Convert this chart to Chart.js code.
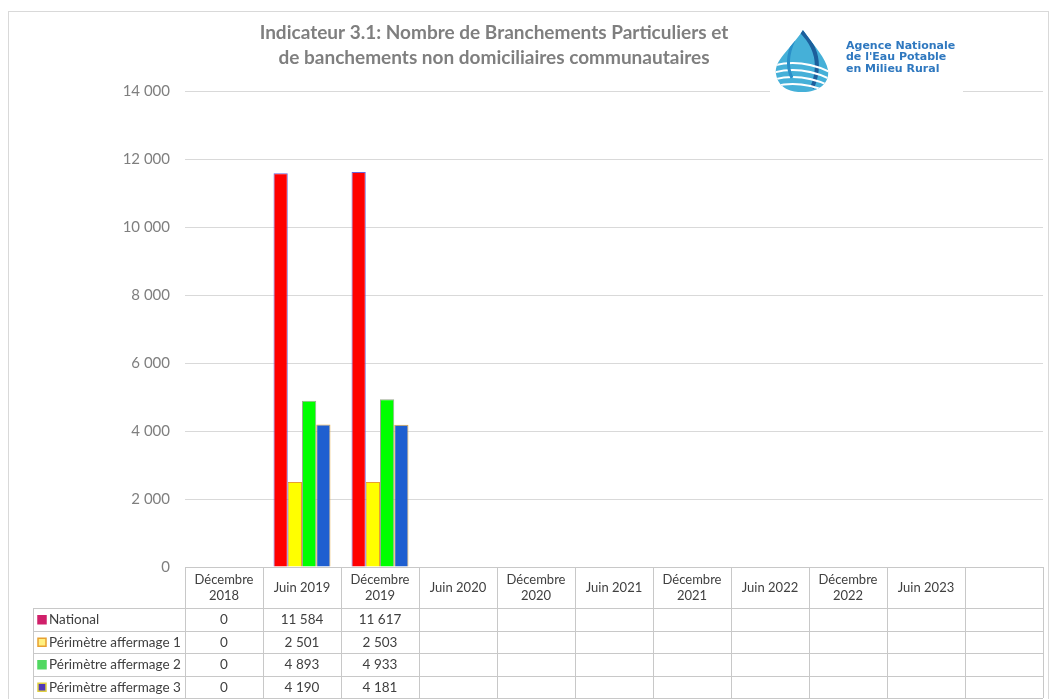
<!DOCTYPE html>
<html>
<head>
<meta charset="utf-8">
<script src="https://cdn.jsdelivr.net/npm/chart.js@4.4.1/dist/chart.umd.min.js"></script>
<style>
  html, body { margin: 0; padding: 0; background: #fff; }
  #wrap { width: 1050px; height: 699px; }
</style>
</head>
<body>
<div id="wrap"><canvas id="indicChart" width="1050" height="699"></canvas></div>
<script>
const periods = [
  ["Décembre", "2018"], ["Juin 2019"], ["Décembre", "2019"], ["Juin 2020"],
  ["Décembre", "2020"], ["Juin 2021"], ["Décembre", "2021"], ["Juin 2022"],
  ["Décembre", "2022"], ["Juin 2023"], [""]
];
const seriesNames = ["National", "Périmètre affermage 1", "Périmètre affermage 2", "Périmètre affermage 3"];
const national = [0, 11584, 11617, null, null, null, null, null, null, null, null];
const perimetre1 = [0, 2501, 2503, null, null, null, null, null, null, null, null];
const perimetre2 = [0, 4893, 4933, null, null, null, null, null, null, null, null];
const perimetre3 = [0, 4190, 4181, null, null, null, null, null, null, null, null];
const yTicks = [0, 2000, 4000, 6000, 8000, 10000, 12000, 14000];
const titleLines = ["Indicateur 3.1: Nombre de Branchements Particuliers et",
                    "de banchements non domiciliaires communautaires"];
const logoLines = ["Agence Nationale", "de l'Eau Potable", "en Milieu Rural"];

const fills = ["#ff0000", "#ffff00", "#00ff00", "#1f5fd0"];
const edges = ["#6a62d8", "#e8a030", "#9aa890", "#e8a838"];
const swatchFill = ["#d0206a", "#fff080", "#50d860", "#5038b8"];
const swatchEdge = ["#d0206a", "#e8a030", "#50d860", "#e0d040"];

const FONT = "Lato, 'Open Sans', sans-serif";
const fmt = v => (v === null || v === undefined) ? "" : String(v).replace(/\B(?=(\d{3})+(?!\d))/g, " ");

const allSeries = [national, perimetre1, perimetre2, perimetre3];

const decor = {
  id: "decor",
  afterDraw(chart) {
    const ctx = chart.ctx;
    const xs = chart.scales.x;
    const area = chart.chartArea;
    const n = periods.length;
    const cw = (area.right - area.left) / n;
    ctx.save();

    // outer frame
    ctx.strokeStyle = "#d9d9d9";
    ctx.lineWidth = 1;
    ctx.strokeRect(8.5, 11.5, 1040, 700);

    // title
    ctx.fillStyle = "#7f7f7f";
    ctx.font = "bold 19px " + FONT;
    ctx.textAlign = "center";
    ctx.textBaseline = "middle";
    ctx.fillText(titleLines[0], 494, 33);
    ctx.fillText(titleLines[1], 494, 58);

    // logo
    ctx.fillStyle = "#fff";
    ctx.fillRect(770, 24, 193, 72);
    ctx.save();
    ctx.beginPath();
    ctx.moveTo(803, 30);
    ctx.bezierCurveTo(790, 50, 774, 60, 776, 74);
    ctx.bezierCurveTo(778, 88, 792, 93, 803, 92);
    ctx.bezierCurveTo(818, 92, 830, 84, 828, 70);
    ctx.bezierCurveTo(826, 58, 814, 46, 803, 30);
    ctx.closePath();
    ctx.fillStyle = "#45b0d8";
    ctx.fill();
    ctx.clip();
    ctx.strokeStyle = "#1c5f9c";
    ctx.lineWidth = 4;
    ctx.beginPath();
    ctx.moveTo(800, 30); ctx.quadraticCurveTo(826, 55, 812, 88);
    ctx.stroke();
    ctx.strokeStyle = "#ffffff";
    ctx.lineWidth = 2;
    for (let k = 0; k < 4; k++) {
      ctx.beginPath();
      ctx.moveTo(772, 66 + k * 7);
      ctx.quadraticCurveTo(800, 58 + k * 7, 830, 72 + k * 7);
      ctx.stroke();
    }
    ctx.strokeStyle = "#2a8fc8";
    ctx.lineWidth = 3;
    ctx.beginPath();
    ctx.moveTo(794, 40); ctx.quadraticCurveTo(784, 62, 792, 78);
    ctx.stroke();
    ctx.restore();
    ctx.fillStyle = "#2f78bf";
    ctx.font = "bold 11px 'DejaVu Sans', sans-serif";
    ctx.textAlign = "left";
    ctx.textBaseline = "middle";
    logoLines.forEach((t, i) => ctx.fillText(t, 846, 46 + i * 11.5));

    // data table
    const top = area.bottom;
    const headBottom = top + 41;
    const rowH = 22.5;
    const tableBottom = headBottom + rowH * seriesNames.length;
    const legendLeft = 33;
    ctx.strokeStyle = "#c8c8c8";
    ctx.lineWidth = 1;
    ctx.beginPath();
    ctx.moveTo(area.left, top + 0.5); ctx.lineTo(area.right, top + 0.5);
    for (let r = 0; r <= seriesNames.length; r++) {
      const y = Math.round(headBottom + r * rowH) + 0.5;
      ctx.moveTo(legendLeft, y); ctx.lineTo(area.right, y);
    }
    for (let i = 0; i <= n; i++) {
      const x = Math.round(xs.getPixelForValue(i) - cw / 2) + 0.5;
      ctx.moveTo(x, top); ctx.lineTo(x, tableBottom);
    }
    ctx.moveTo(legendLeft + 0.5, headBottom); ctx.lineTo(legendLeft + 0.5, tableBottom);
    ctx.stroke();

    ctx.fillStyle = "#404040";
    ctx.font = "13px " + FONT;
    ctx.textAlign = "center";
    periods.forEach((lab, i) => {
      const cx = xs.getPixelForValue(i);
      if (lab.length === 2) {
        ctx.fillText(lab[0], cx, top + 13);
        ctx.fillText(lab[1], cx, top + 29);
      } else {
        ctx.fillText(lab[0], cx, top + 21);
      }
    });
    ctx.font = "13.5px " + FONT;
    allSeries.forEach((vals, r) => {
      const cy = headBottom + r * rowH + rowH / 2 + 0.5;
      vals.forEach((v, i) => {
        ctx.fillText(fmt(v), xs.getPixelForValue(i), cy);
      });
    });

    ctx.textAlign = "left";
    seriesNames.forEach((name, r) => {
      const cy = headBottom + r * rowH + rowH / 2 + 0.5;
      ctx.fillStyle = swatchFill[r];
      ctx.fillRect(38, cy - 4, 8, 8);
      ctx.strokeStyle = swatchEdge[r];
      ctx.lineWidth = 1.5;
      ctx.strokeRect(38, cy - 4, 8, 8);
      ctx.fillStyle = "#404040";
      ctx.fillText(name, 49, cy);
    });
    ctx.restore();
  }
};

new Chart(document.getElementById("indicChart").getContext("2d"), {
  type: "bar",
  data: {
    labels: periods.map(p => p.join(" ")),
    datasets: allSeries.map((vals, k) => ({
      label: seriesNames[k],
      data: vals,
      backgroundColor: fills[k],
      borderColor: edges[k],
      borderWidth: 1,
      categoryPercentage: 0.73,
      barPercentage: 1.0
    }))
  },
  options: {
    responsive: false,
    animation: false,
    layout: { padding: { top: 91, right: 7, bottom: 0, left: 0 } },
    plugins: {
      legend: { display: false },
      title: { display: false },
      tooltip: { enabled: false }
    },
    scales: {
      x: {
        grid: { display: false },
        border: { display: false },
        ticks: { display: false },
        afterFit(scale) { scale.height = 132; }
      },
      y: {
        min: 0,
        max: 14000,
        afterBuildTicks(scale) { scale.ticks = yTicks.map(v => ({ value: v })); },
        afterFit(scale) { scale.width = 185; },
        grid: { color: "#d9d9d9", drawTicks: false },
        border: { display: false },
        ticks: {
          padding: 15,
          color: "#7f7f7f",
          font: { family: FONT, size: 15 },
          callback: v => fmt(v)
        }
      }
    }
  },
  plugins: [decor]
});
</script>
</body>
</html>
